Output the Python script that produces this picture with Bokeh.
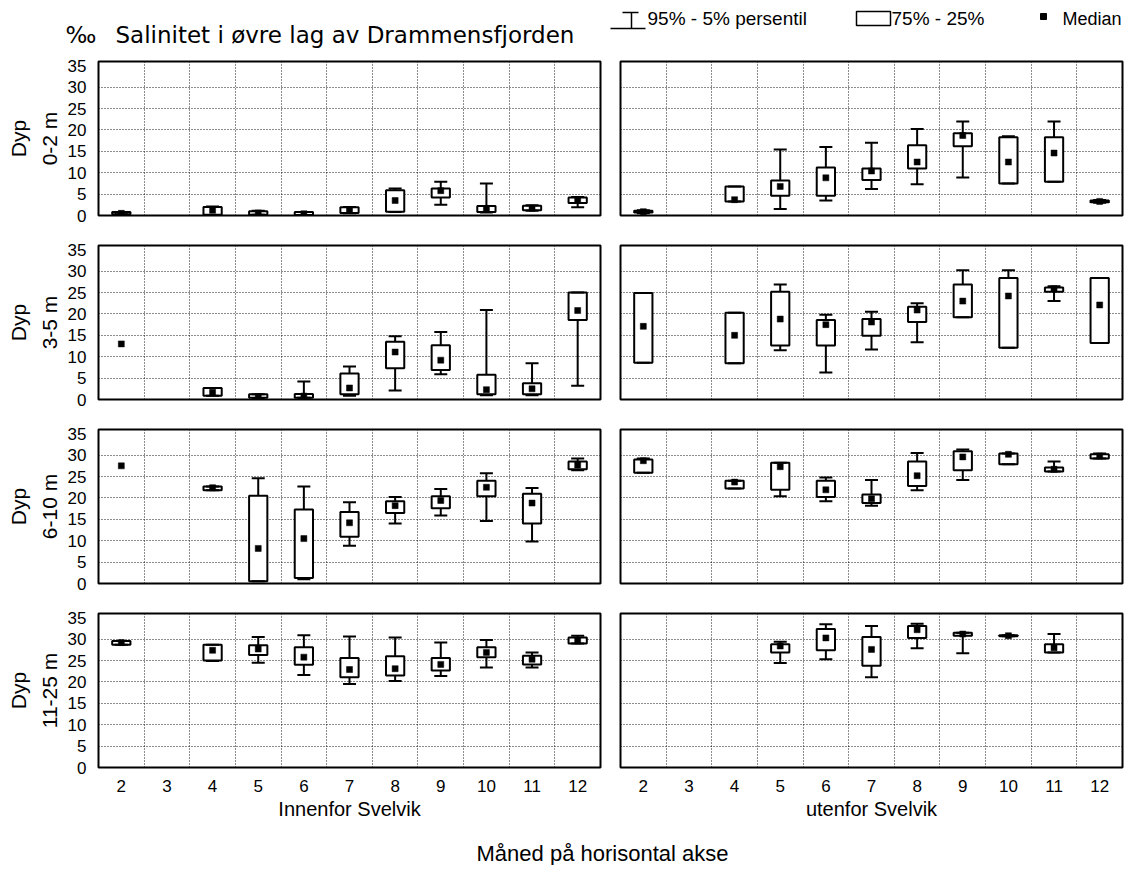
import numpy as np
from bokeh.plotting import figure
from bokeh.models import ColumnDataSource, FixedTicker, Range1d, Title
from bokeh.layouts import column, row
from bokeh.embed import file_html
from bokeh.resources import INLINE
from bokeh.core.properties import value

N = None
MONTHS = [2, 3, 4, 5, 6, 7, 8, 9, 10, 11, 12]
Y_TICKS = [0, 5, 10, 15, 20, 25, 30, 35]
DEPTHS = ["0-2 m", "3-5 m", "6-10 m", "11-25 m"]
TITLE = "Salinitet i øvre lag av Drammensfjorden"
UNIT = "‰"
LEGEND_TEXTS = ["95%  - 5% persentil", "75% - 25%", "Median"]
X_LABEL_IN = "Innenfor Svelvik"
X_LABEL_OUT = "utenfor Svelvik"
FOOTER = "Måned på horisontal akse"

# percentiles per month (2..12): 5%, 25%, median, 75%, 95%
IN_0_2 = dict(
    p5=[0.3, N, 0.1, 0.2, 0.1, 0.5, 0.8, 2.5, 0.7, 1.1, 1.9],
    p25=[0.3, N, 0.2, 0.2, 0.1, 0.6, 0.9, 4.2, 0.8, 1.2, 2.9],
    med=[0.5, N, 1.2, 0.6, 0.4, 1.3, 3.5, 5.8, 1.5, 1.7, 3.5],
    p75=[0.8, N, 2.0, 1.0, 0.8, 1.9, 5.9, 6.3, 2.2, 2.3, 4.2],
    p95=[0.8, N, 2.1, 1.1, 0.8, 2.0, 6.3, 7.9, 7.5, 2.4, 4.3],
)
OUT_0_2 = dict(
    p5=[0.5, N, 3.3, 1.5, 3.5, 6.2, 7.3, 8.9, 7.5, 7.9, 3.0],
    p25=[0.7, N, 3.3, 4.6, 4.6, 8.3, 11.0, 16.2, 7.5, 7.9, 3.1],
    med=[0.9, N, 3.7, 6.8, 8.8, 10.4, 12.5, 18.7, 12.5, 14.6, 3.3],
    p75=[1.1, N, 6.8, 8.2, 11.2, 11.0, 16.4, 19.2, 18.3, 18.3, 3.5],
    p95=[1.2, N, 6.8, 15.4, 16.0, 17.0, 20.2, 22.0, 18.5, 22.0, 3.6],
)
IN_3_5 = dict(
    p5=[N, N, 0.9, 0.3, 0.4, 0.9, 2.1, 5.9, 1.0, 1.0, 3.2],
    p25=[N, N, 0.9, 0.4, 0.4, 1.2, 7.3, 6.9, 1.2, 1.2, 18.6],
    med=[13.0, N, 1.7, 0.7, 0.8, 2.7, 11.1, 9.2, 2.3, 2.5, 20.8],
    p75=[N, N, 2.7, 1.2, 1.3, 6.1, 13.5, 12.7, 5.8, 3.8, 25.0],
    p95=[N, N, 2.7, 1.2, 4.2, 7.7, 14.8, 15.8, 20.9, 8.5, 25.0],
)
OUT_3_5 = dict(
    p5=[8.6, N, 8.5, 11.5, 6.3, 11.7, 13.4, 19.2, 12.1, 23.0, 13.2],
    p25=[8.6, N, 8.5, 12.6, 12.6, 14.9, 18.1, 19.2, 12.1, 25.2, 13.2],
    med=[17.1, N, 15.0, 18.8, 17.5, 18.1, 20.9, 23.0, 24.2, 25.9, 22.1],
    p75=[24.9, N, 20.3, 25.2, 18.6, 18.8, 21.7, 26.9, 28.4, 26.2, 28.4],
    p95=[24.9, N, 20.3, 26.9, 19.8, 20.5, 22.5, 30.2, 30.2, 26.5, 28.4],
)
IN_6_10 = dict(
    p5=[N, N, 21.8, 0.5, 1.0, 8.8, 14.0, 15.9, 14.6, 9.8, 26.5],
    p25=[N, N, 21.8, 0.5, 1.3, 10.9, 16.5, 17.6, 20.4, 14.0, 26.7],
    med=[27.5, N, 22.4, 8.2, 10.5, 14.2, 18.2, 19.4, 22.5, 18.8, 27.7],
    p75=[N, N, 22.7, 20.5, 17.3, 16.7, 19.2, 20.4, 24.0, 21.0, 28.5],
    p95=[N, N, 22.7, 24.6, 22.7, 19.0, 20.2, 22.1, 25.8, 22.3, 29.2],
)
OUT_6_10 = dict(
    p5=[25.9, N, 22.2, 20.4, 19.2, 18.2, 21.8, 24.2, 27.9, 26.2, 29.2],
    p25=[25.9, N, 22.2, 21.9, 20.2, 18.8, 22.8, 26.5, 27.9, 26.2, 29.2],
    med=[28.7, N, 23.7, 27.3, 21.9, 19.8, 25.2, 29.6, 30.2, 26.7, 29.8],
    p75=[29.0, N, 24.0, 28.2, 24.0, 20.8, 28.5, 30.9, 30.4, 27.1, 30.2],
    p95=[29.2, N, 24.0, 28.2, 24.8, 24.2, 30.5, 31.3, 30.4, 28.5, 30.4],
)
IN_11_25 = dict(
    p5=[28.7, N, 24.9, 24.5, 21.6, 19.5, 20.2, 21.4, 23.4, 23.4, 29.0],
    p25=[28.7, N, 25.0, 26.3, 24.0, 21.1, 21.5, 22.7, 25.8, 24.1, 29.0],
    med=[29.2, N, 27.4, 27.7, 25.8, 22.9, 23.1, 24.1, 26.9, 25.3, 29.6],
    p75=[29.6, N, 28.7, 28.6, 28.1, 25.6, 26.0, 25.6, 28.1, 26.1, 30.4],
    p95=[29.6, N, 28.7, 30.5, 30.9, 30.6, 30.4, 29.2, 29.8, 26.9, 30.8],
)
OUT_11_25 = dict(
    p5=[N, N, N, 24.4, 25.3, 21.1, 27.9, 26.7, 30.7, 26.9, N],
    p25=[N, N, N, 26.9, 27.4, 23.8, 30.3, 30.8, 30.7, 26.9, N],
    med=[N, N, N, 28.4, 30.3, 27.6, 32.2, 31.2, 30.8, 28.0, N],
    p75=[N, N, N, 28.8, 32.4, 30.5, 33.1, 31.5, 30.9, 28.8, N],
    p95=[N, N, N, 29.4, 33.5, 33.1, 33.6, 31.5, 30.9, 31.2, N],
)

FONT = "Liberation Sans"
FRAME_W = 502
FRAME_H = 154


def arr(lst):
    return np.array([np.nan if v is None else v for v in lst], dtype=float)


def panel(stats, is_left, is_bottom, depth, xlabel):
    top_b = 6
    bot_b = 60 if is_bottom else 24
    if is_left:
        lb, rb = 98, 10
    else:
        lb, rb = 10, 8
    p = figure(width=lb + FRAME_W + rb, height=top_b + FRAME_H + bot_b,
               x_range=Range1d(1.5, 12.5), y_range=Range1d(0, 36),
               output_backend="svg", toolbar_location=None,
               min_border_left=lb, min_border_right=rb,
               min_border_top=top_b, min_border_bottom=bot_b)
    p.outline_line_color = "black"
    p.outline_line_width = 2
    p.background_fill_color = "white"
    p.border_fill_color = "white"

    src = ColumnDataSource(dict(
        x=MONTHS, p5=arr(stats["p5"]), q1=arr(stats["p25"]),
        med=arr(stats["med"]), q3=arr(stats["p75"]), p95=arr(stats["p95"])))

    p.segment(x0="x", y0="q3", x1="x", y1="p95", source=src, line_color="black", line_width=2)
    p.segment(x0="x", y0="p5", x1="x", y1="q1", source=src, line_color="black", line_width=2)
    p.vbar(x="x", width=0.4, top="q3", bottom="q1", source=src,
           fill_color="white", line_color="black", line_width=2)
    p.scatter(x="x", y="p95", source=src, marker="dash", size=13, line_color="black", line_width=2)
    p.scatter(x="x", y="p5", source=src, marker="dash", size=13, line_color="black", line_width=2)
    p.scatter(x="x", y="med", source=src, marker="square", size=6,
              fill_color="black", line_color="black", line_width=0.5)

    p.xgrid.ticker = FixedTicker(ticks=[m + 0.5 for m in MONTHS[:-1]])
    p.ygrid.ticker = FixedTicker(ticks=Y_TICKS[1:-1])
    for g in (p.xgrid, p.ygrid):
        g.grid_line_color = "black"
        g.grid_line_dash = "1 2"
        g.grid_line_width = 1
        g.grid_line_alpha = 0.9

    ya = p.yaxis[0]
    ya.ticker = FixedTicker(ticks=Y_TICKS)
    ya.axis_line_color = None
    ya.major_tick_line_color = None
    ya.minor_tick_line_color = None
    ya.major_tick_out = 0
    ya.major_tick_in = 0
    ya.major_label_standoff = 12
    ya.major_label_text_font = FONT
    ya.major_label_text_font_size = "17px"
    ya.major_label_text_color = "black"
    if is_left:
        p.add_layout(Title(text=depth, align="center", text_font=FONT,
                           text_font_size="21px", text_font_style="normal",
                           text_color="black", standoff=8), "left")
        p.add_layout(Title(text="Dyp", align="center", text_font=FONT,
                           text_font_size="21px", text_font_style="normal",
                           text_color="black", standoff=4), "left")
    else:
        ya.visible = False

    xa = p.xaxis[0]
    xa.ticker = FixedTicker(ticks=MONTHS)
    xa.axis_line_color = None
    xa.major_tick_line_color = None
    xa.minor_tick_line_color = None
    xa.major_tick_out = 0
    xa.major_tick_in = 0
    if is_bottom:
        xa.major_label_standoff = 12
        xa.major_label_text_font = FONT
        xa.major_label_text_font_size = "17px"
        xa.major_label_text_color = "black"
        xa.axis_label = xlabel
        xa.axis_label_standoff = 3
        xa.axis_label_text_font = FONT
        xa.axis_label_text_font_size = "20px"
        xa.axis_label_text_font_style = "normal"
        xa.axis_label_text_color = "black"
    else:
        xa.visible = False
    return p


def blank(width, height):
    p = figure(width=width, height=height, x_range=Range1d(0, width),
               y_range=Range1d(0, height), output_backend="svg",
               toolbar_location=None, min_border=0)
    p.axis.visible = False
    p.grid.visible = False
    p.outline_line_color = None
    p.background_fill_color = "white"
    p.border_fill_color = "white"
    return p


# header strip: title and legend, coordinates in pixels of the strip
HW, HH = 1128, 55
header = blank(HW, HH)
header.text(x=[65], y=[21], text=[UNIT], text_font=value("DejaVu Sans"),
            text_font_size="23px", text_baseline="alphabetic", text_color="black")
header.text(x=[115], y=[21], text=[TITLE], text_font=value("DejaVu Sans"),
            text_font_size="23px", text_baseline="alphabetic", text_color="black")
# whisker icon
header.segment(x0=[610, 622], y0=[27, 43], x1=[645, 638], y1=[27, 43],
               line_color="black", line_width=1.5)
header.segment(x0=[631], y0=[27], x1=[631], y1=[43], line_color="black", line_width=1.5)
header.text(x=[647], y=[37], text=[LEGEND_TEXTS[0]], text_font=value(FONT),
            text_font_size="19px", text_baseline="middle", text_color="black")
# box icon
header.quad(left=[856], right=[890], bottom=[30], top=[44], fill_color="white",
            line_color="black", line_width=1.5)
header.text(x=[891], y=[37], text=[LEGEND_TEXTS[1]], text_font=value(FONT),
            text_font_size="19px", text_baseline="middle", text_color="black")
# median icon
header.scatter(x=[1043], y=[39], marker="square", size=6, fill_color="black", line_color="black")
header.text(x=[1062], y=[37], text=[LEGEND_TEXTS[2]], text_font=value(FONT),
            text_font_size="18px", text_baseline="middle", text_color="black")

footer = blank(HW, 38)
footer.text(x=[602], y=[12], text=[FOOTER], text_font=value(FONT),
            text_font_size="22px", text_baseline="middle", text_align="center",
            text_color="black")

panels_in = [IN_0_2, IN_3_5, IN_6_10, IN_11_25]
panels_out = [OUT_0_2, OUT_3_5, OUT_6_10, OUT_11_25]
rows = []
for i, d in enumerate(DEPTHS):
    bottom = i == len(DEPTHS) - 1
    left = panel(panels_in[i], True, bottom, d, X_LABEL_IN)
    right = panel(panels_out[i], False, bottom, d, X_LABEL_OUT)
    rows.append(row(left, right, spacing=0))

layout = column(header, *rows, footer, spacing=0)

with open("out.html", "w") as f:
    f.write(file_html(layout, INLINE))
